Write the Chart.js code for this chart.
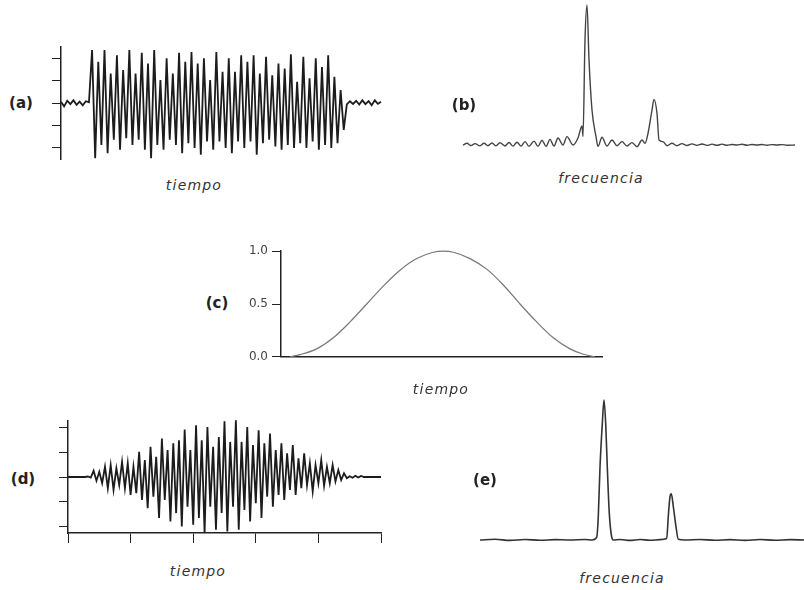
<!DOCTYPE html>
<html lang="es">
<head>
<meta charset="utf-8">
<title>Señal, ventana y espectro</title>
<script src="https://cdn.jsdelivr.net/npm/chart.js@4"></script>
<style>
  html, body { margin: 0; padding: 0; background: #fff; }
  #page { position: relative; width: 804px; height: 590px; overflow: hidden; background: #fff; }
  canvas { position: absolute; }
  .tag { position: absolute; transform: translate(-50%, -50%); font-family: "DejaVu Sans", sans-serif; font-weight: bold; font-size: 15px; color: #222; white-space: nowrap; }
  .axis-name { position: absolute; transform: translate(-50%, -50%); font-family: "DejaVu Sans", sans-serif; font-style: italic; font-size: 14px; letter-spacing: 1.2px; color: #333; white-space: nowrap; }
</style>
</head>
<body>
<div id="page">
  <canvas id="chartA" width="355" height="125" style="left:35px;top:40px"></canvas>
  <canvas id="chartB" width="345" height="160" style="left:455px;top:0px"></canvas>
  <canvas id="chartC" width="375" height="128" style="left:235px;top:240px"></canvas>
  <canvas id="chartD" width="355" height="135" style="left:40px;top:410px"></canvas>
  <canvas id="chartE" width="334" height="160" style="left:470px;top:390px"></canvas>

  <div class="tag" style="left:21px;top:103px">(a)</div>
  <div class="tag" style="left:464px;top:105px">(b)</div>
  <div class="tag" style="left:217px;top:303px">(c)</div>
  <div class="tag" style="left:23px;top:479px">(d)</div>
  <div class="tag" style="left:485px;top:480px">(e)</div>

  <div class="axis-name" style="left:194px;top:185px">tiempo</div>
  <div class="axis-name" style="left:601px;top:178px">frecuencia</div>
  <div class="axis-name" style="left:441px;top:389px">tiempo</div>
  <div class="axis-name" style="left:198px;top:571px">tiempo</div>
  <div class="axis-name" style="left:622px;top:578px">frecuencia</div>
</div>

<script>
// ---- (a) signal: noise, burst (one max and one min per half cycle), noise ----
const aPre = [0.05, -0.15, 0.1, -0.05, 0.12, -0.08, 0.06, -0.1, 0.08, 0.03];
const aTops = [2.36, 1.84, 2.36, 1.32, 2.13, 1.47, 2.36, 1.32, 2.24, 1.76,
               2.36, 1.02, 2.0, 1.32, 2.24, 1.84, 2.28, 1.76, 2.0, 1.02,
               2.28, 1.39, 2.0, 1.39, 2.13, 1.84, 2.13, 1.32, 2.06, 1.24,
               1.76, 1.54, 2.18, 0.95, 2.06, 1.1, 2.0, 1.61, 2.13, 1.17, 0.58];
const aBottoms = [-2.46, -1.87, -2.24, -1.64, -2.09, -1.57, -1.87, -1.64, -2.09, -2.46,
                  -1.87, -2.09, -1.64, -1.87, -2.24, -1.79, -2.01, -2.31, -1.72, -2.09,
                  -1.72, -2.01, -2.24, -1.72, -2.01, -1.72, -2.31, -1.79, -1.64, -1.94,
                  -2.09, -1.87, -2.01, -1.79, -2.01, -1.72, -2.09, -1.87, -2.01, -1.79, -1.2];
const aPost = [-0.06, 0.08, -0.04, 0.1, -0.07, 0.12, -0.05, 0.08, -0.1, 0.12, -0.04, 0.06];
const aYTicks = [-2, -1, 0, 1, 2];

// ---- (b) spectrum of (a) ----
const bFreq = [0, 4, 8, 12, 17, 21, 25, 29, 33, 37,
               42, 46, 50, 54, 58, 62, 66, 71, 75, 79,
               83, 87, 91, 95, 100, 104, 110, 115, 119, 120,
               122, 124, 126, 129, 133, 135, 139, 144, 149, 154,
               159, 164, 169, 174, 179, 182, 185, 189, 191, 194,
               196, 200, 204, 209, 214, 219, 224, 229, 234, 239,
               244, 249, 254, 259, 264, 269, 274, 279, 284, 289,
               294, 299, 304, 309, 314, 319, 324, 332];
const bAmp = [0, 0.012, -0.004, 0.01, -0.006, 0.012, -0.005, 0.014, -0.006, 0.016,
              -0.007, 0.018, -0.008, 0.02, -0.008, 0.024, -0.01, 0.028, -0.01, 0.034,
              -0.01, 0.04, -0.008, 0.05, 0.0, 0.06, 0.0, 0.05, 0.136, 0.06,
              0.75, 1.0, 0.61, 0.25, 0.06, -0.01, 0.055, -0.007, 0.036, -0.005,
              0.024, -0.007, 0.017, -0.012, 0.036, 0.012, 0.083, 0.25, 0.326, 0.226,
              0.036, 0.024, -0.005, 0.012, -0.005, 0.01, -0.004, 0.008, -0.003, 0.007,
              -0.003, 0.006, -0.002, 0.006, -0.002, 0.004, 0.0, 0.005, -0.002, 0.004,
              0.0, 0.004, -0.002, 0.003, 0.0, 0.003, -0.002, 0.0];

// ---- (c) window ----
const cTime = [9, 19, 35.7, 52.3, 69, 85.7, 102.3, 119, 135.7, 152.3, 162.3,
               172.3, 189, 205.7, 222.3, 239, 255.7, 272.3, 289, 302.3, 314];
const cVal = [0, 0.02, 0.075, 0.18, 0.33, 0.5, 0.67, 0.82, 0.93, 0.99, 1.0,
              0.99, 0.93, 0.83, 0.68, 0.5, 0.33, 0.18, 0.075, 0.024, 0];
const cYTicks = [0, 0.5, 1];

// ---- (d) windowed signal ----
const dPre = [0, 0, 0, 0, 0, 0, 0, 0.02, -0.02];
const dTops = [0.25, 0.21, 0.41, 0.48, 0.35, 0.61, 0.55, 0.41, 1.01, 0.68,
               1.21, 0.81, 1.55, 1.08, 1.35, 1.48, 1.91, 1.08, 2.08, 1.48,
               2.01, 1.21, 1.61, 2.24, 1.41, 2.28, 1.41, 2.01, 1.28, 1.88,
               1.35, 1.75, 1.08, 1.35, 0.95, 1.28, 0.75, 0.95, 0.55, 0.48,
               0.68, 0.41, 0.48, 0.28, 0.15];
const dBottoms = [-0.15, -0.25, -0.45, -0.52, -0.32, -0.45, -0.72, -0.65, -0.92, -1.25,
                  -0.79, -1.65, -0.92, -1.79, -1.45, -1.99, -1.19, -1.92, -1.65, -2.25,
                  -1.19, -2.12, -1.45, -2.19, -1.19, -2.12, -1.32, -1.79, -1.05, -1.65,
                  -0.79, -1.19, -0.72, -0.92, -0.52, -0.72, -0.45, -0.32, -0.58, -0.25,
                  -0.35, -0.25, -0.18, -0.12, -0.05];
const dPost = [0.03, -0.03, 0.05, -0.02, 0.04, 0, 0, 0, 0, 0, 0, 0, 0, 0, 0];
const dXTicks = [0, 22, 44, 66, 88, 110];
const dYTicks = [-2, -1, 0, 1, 2];

// ---- (e) spectrum of (d) ----
const eFreq = [0, 15, 30, 45, 60, 75, 90, 105, 112, 116.7,
               118.3, 120, 122.3, 124, 125.7, 127.3, 129.3, 131.7, 133.3, 140,
               150, 160, 170, 180, 186.7, 188.3, 190, 191.3, 193.3, 196,
               198.3, 205, 220, 235, 250, 265, 280, 295, 310, 324];
const eAmp = [0, 0.005, -0.003, 0.004, -0.002, 0.003, 0, 0.004, 0, 0.02,
              0.17, 0.52, 0.83, 1.0, 0.83, 0.52, 0.19, 0.02, 0, 0.004,
              -0.003, 0.004, -0.002, 0.003, 0.01, 0.17, 0.31, 0.33, 0.24, 0.095,
              0.005, 0, 0.004, -0.002, 0.003, -0.003, 0.004, -0.002, 0.003, 0];

Chart.defaults.font.family = '"DejaVu Sans", sans-serif';

const AXIS = '#222';

// interleave maxima and minima of a burst
function burst(tops, bottoms) {
    return tops.flatMap((t, i) => [t, bottoms[i]]);
}

function toPoints(ys, xs) {
    return ys.map((y, i) => ({ x: xs ? xs[i] : i, y: y }));
}

function fixedTicks(values) {
    return scale => { scale.ticks = values.map(v => ({ value: v })); };
}

function lineChart(id, points, color, width, padding, scales, extra) {
    return new Chart(document.getElementById(id), {
        type: 'line',
        data: {
            datasets: [Object.assign({
                data: points,
                borderColor: color,
                borderWidth: width,
                pointRadius: 0,
                tension: 0,
                clip: false
            }, extra || {})]
        },
        options: {
            responsive: false,
            animation: false,
            events: [],
            layout: { padding: padding },
            plugins: { legend: { display: false }, tooltip: { enabled: false } },
            scales: scales
        }
    });
}

// left axis with tick marks only
function markAxis(min, max, ticks, width) {
    return {
        min: min, max: max,
        afterFit: s => { s.width = width; },
        afterBuildTicks: fixedTicks(ticks),
        ticks: { display: false },
        grid: { drawOnChartArea: false, tickLength: 9, color: AXIS },
        border: { color: AXIS, width: 1.5 }
    };
}

const smooth = { cubicInterpolationMode: 'monotone' };

// (a)
const aSignal = [...aPre, ...burst(aTops, aBottoms), ...aPost];
lineChart('chartA', toPoints(aSignal), '#1c1c1c', 1.8,
    { top: 7, bottom: 6, left: 0, right: 9 },
    {
        x: { type: 'linear', display: false, min: 0, max: aSignal.length - 1 },
        y: markAxis(-2.5, 2.5, aYTicks, 26)
    });

// (b)
lineChart('chartB', toPoints(bAmp, bFreq), '#444', 1.4,
    { top: 5, bottom: 8, left: 8, right: 5 },
    {
        x: { type: 'linear', display: false, min: 0, max: 332 },
        y: { display: false, min: -0.05, max: 1 }
    }, smooth);

// (c)
lineChart('chartC', toPoints(cVal, cTime), '#777', 1.2,
    { top: 9, bottom: 0, left: 0, right: 8 },
    {
        x: {
            type: 'linear', min: 0, max: 321,
            afterFit: s => { s.height = 8; },
            ticks: { display: false },
            grid: { drawOnChartArea: false, drawTicks: false },
            border: { color: AXIS, width: 1.5 }
        },
        y: {
            min: 0, max: 1,
            afterFit: s => { s.width = 46; },
            afterBuildTicks: fixedTicks(cYTicks),
            ticks: { callback: v => v.toFixed(1), color: '#444', padding: 4, font: { size: 12 } },
            grid: { drawOnChartArea: false, tickLength: 9, color: AXIS },
            border: { color: AXIS, width: 1.5 }
        }
    }, smooth);

// (d)
const dSignal = [...dPre, ...burst(dTops, dBottoms), ...dPost];
lineChart('chartD', toPoints(dSignal), '#1c1c1c', 1.8,
    { top: 11, bottom: 0, left: 0, right: 14 },
    {
        x: {
            type: 'linear', min: 0, max: 110,
            afterFit: s => { s.height = 12; },
            afterBuildTicks: fixedTicks(dXTicks),
            ticks: { display: false },
            grid: { drawOnChartArea: false, tickLength: 10, color: AXIS },
            border: { color: AXIS, width: 1.5 }
        },
        y: markAxis(-2.25, 2.25, dYTicks, 28)
    });

// (e)
lineChart('chartE', toPoints(eAmp, eFreq), '#333', 1.6,
    { top: 10, bottom: 3, left: 10, right: 0 },
    {
        x: { type: 'linear', display: false, min: 0, max: 324 },
        y: { display: false, min: -0.05, max: 1 }
    }, smooth);
</script>
</body>
</html>
